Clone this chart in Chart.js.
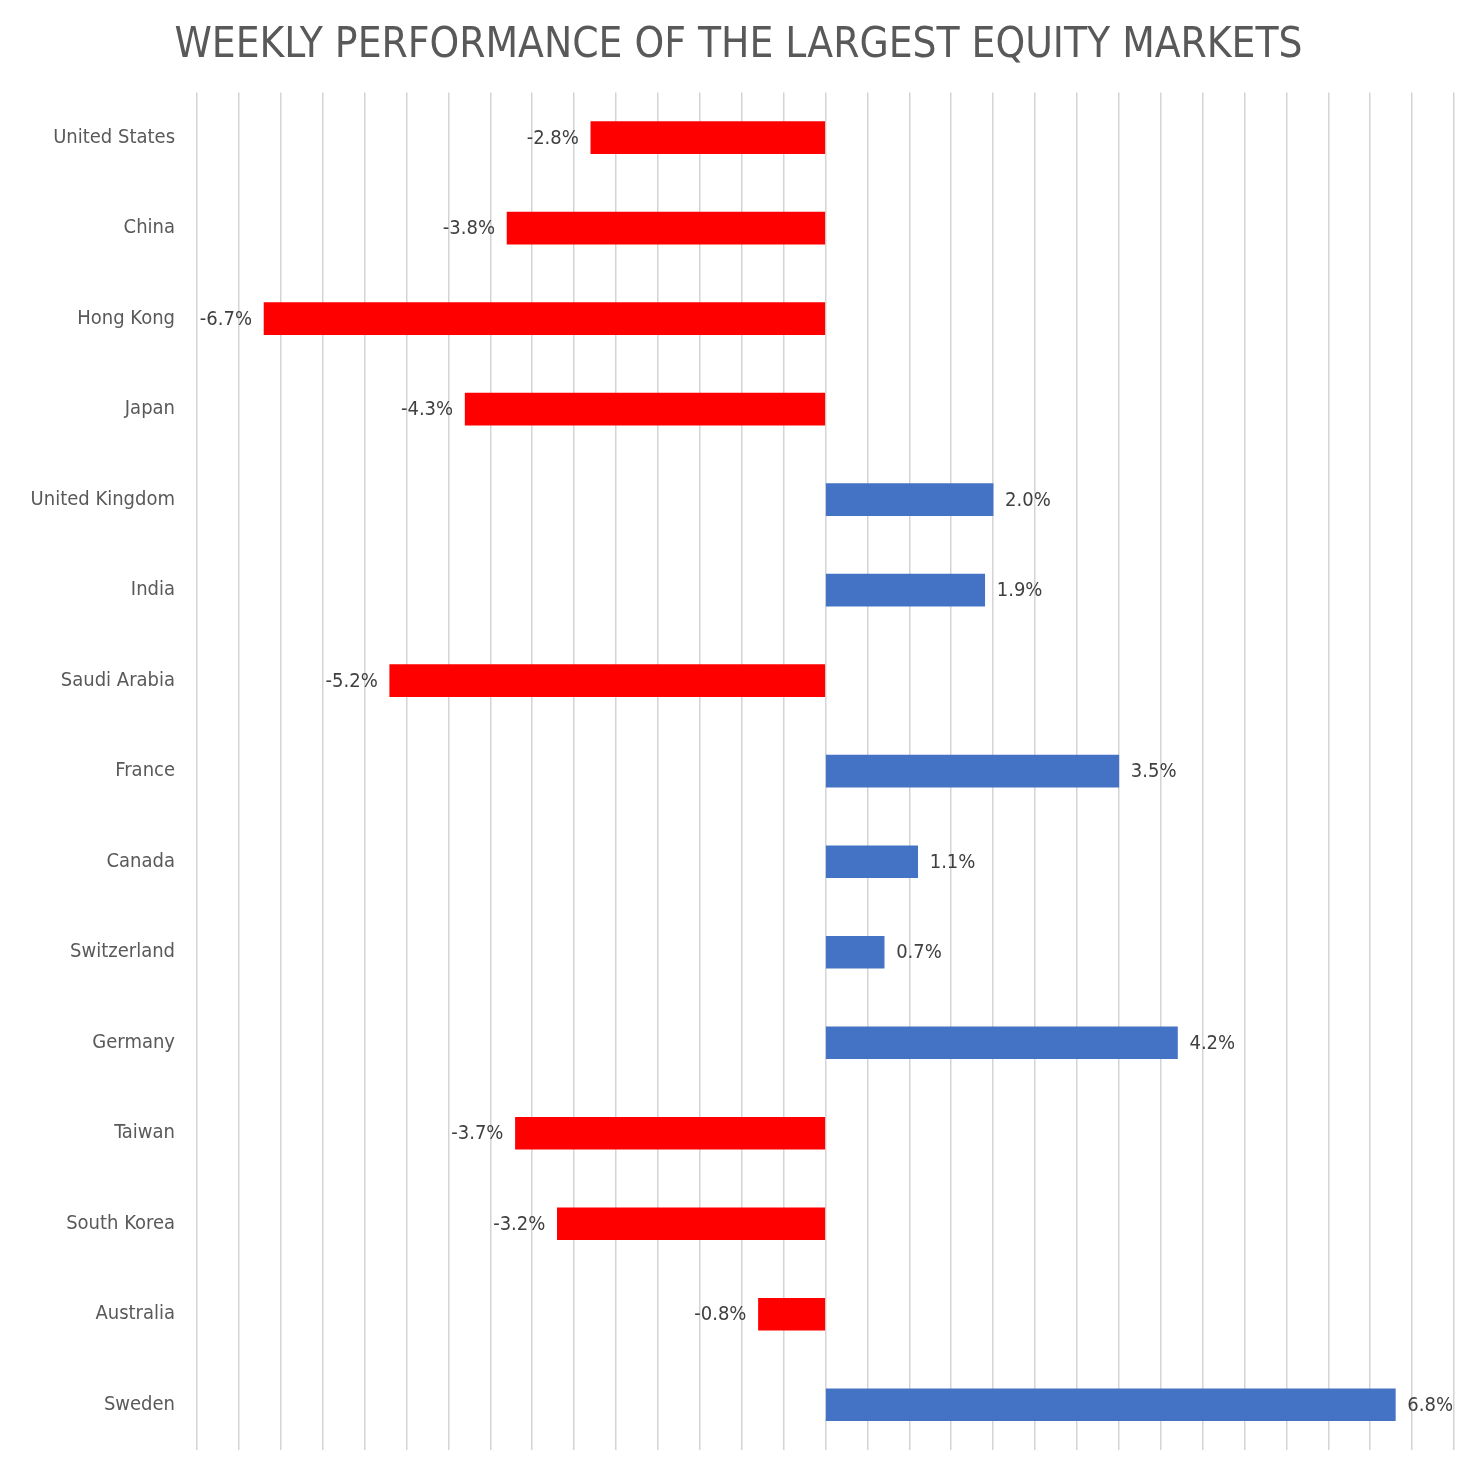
<!DOCTYPE html>
<html>
<head>
<meta charset="utf-8">
<script src="https://cdn.jsdelivr.net/npm/chart.js@4/dist/chart.umd.min.js"></script>
<style>
  html, body { margin: 0; padding: 0; background: #fff; }
  #wrap { width: 1477px; height: 1473px; }
</style>
</head>
<body>
<div id="wrap"><canvas id="myBarChart"></canvas></div>
<script>
var countries = ["United States", "China", "Hong Kong", "Japan", "United Kingdom", "India",
  "Saudi Arabia", "France", "Canada", "Switzerland", "Germany", "Taiwan", "South Korea",
  "Australia", "Sweden"];
var weeklyChange = [-2.8, -3.8, -6.7, -4.3, 2.0, 1.9, -5.2, 3.5, 1.1, 0.7, 4.2, -3.7, -3.2, -0.8, 6.8];

var fontName = "'DejaVu Sans Condensed', 'Roboto', sans-serif";

// labels at the end of each bar
var barLabels = {
  id: "barLabels",
  afterDatasetsDraw: function (chart) {
    var ctx = chart.ctx;
    var meta = chart.getDatasetMeta(0);
    ctx.save();
    ctx.font = "20px " + fontName;
    ctx.fillStyle = "#404040";
    ctx.textBaseline = "middle";
    meta.data.forEach(function (bar, i) {
      var v = weeklyChange[i];
      var txt = v.toFixed(1) + "%";
      if (v < 0) {
        ctx.textAlign = "right";
        ctx.fillText(txt, bar.x - 12, bar.y + 1);
      } else {
        ctx.textAlign = "left";
        ctx.fillText(txt, bar.x + 12, bar.y + 1);
      }
    });
    ctx.restore();
  }
};

new Chart("myBarChart", {
  type: "bar",
  data: {
    labels: countries,
    datasets: [{
      data: weeklyChange,
      backgroundColor: weeklyChange.map(function (v) { return v < 0 ? "#ff0000" : "#4472c4"; }),
      barThickness: 32
    }]
  },
  options: {
    indexAxis: "y",
    responsive: true,
    maintainAspectRatio: false,
    animation: false,
    layout: { padding: 0 },
    plugins: {
      legend: { display: false },
      tooltip: { enabled: false },
      title: {
        display: true,
        text: "WEEKLY PERFORMANCE OF THE LARGEST EQUITY MARKETS",
        color: "#595959",
        font: { family: fontName, size: 42, weight: "normal" },
        padding: { top: 21, bottom: 21 }
      }
    },
    scales: {
      x: {
        min: -7.5,
        max: 7.5,
        ticks: { display: false, stepSize: 0.5 },
        grid: { color: "#d4d4d4", lineWidth: 1.5, drawTicks: false },
        border: { display: false },
        afterFit: function (s) { s.height = 23; }
      },
      y: {
        ticks: { color: "#595959", font: { family: fontName, size: 20 }, padding: 14 },
        grid: { display: false },
        border: { display: false },
        afterFit: function (s) { s.width = 197; s.paddingTop = 0; s.paddingBottom = 0; }
      },
      // empty right-hand axis, only to leave the margin on the right
      yRight: {
        type: "linear",
        position: "right",
        ticks: { display: false },
        grid: { display: false },
        border: { display: false },
        afterFit: function (s) { s.width = 23; s.paddingTop = 0; s.paddingBottom = 0; }
      }
    }
  },
  plugins: [barLabels]
});
</script>
</body>
</html>
